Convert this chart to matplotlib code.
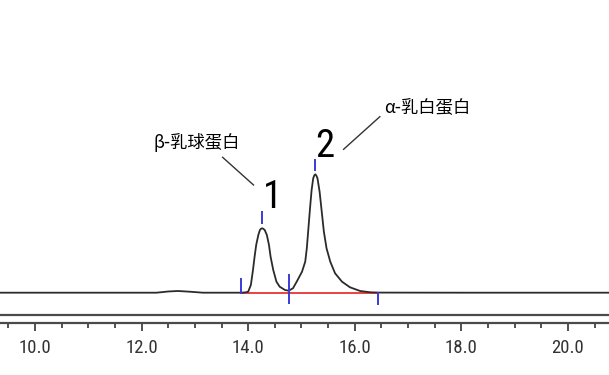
import matplotlib
matplotlib.use('Agg')
import matplotlib.pyplot as plt
from matplotlib.ticker import MultipleLocator, FormatStrFormatter

# datos del cromatograma (tiempo en min, senal)
tiempo = [9.34, 10.5, 11.5, 12.28, 12.5, 12.68, 12.9, 13.15, 13.5, 13.87,
          13.95, 14.00, 14.05, 14.09, 14.12, 14.15, 14.19, 14.22, 14.24, 14.26,
          14.28, 14.31, 14.35, 14.39, 14.42, 14.47, 14.53, 14.59, 14.69, 14.76,
          14.84, 14.91, 15.01, 15.07, 15.10, 15.13, 15.16, 15.19, 15.22, 15.24,
          15.26, 15.28, 15.30, 15.34, 15.38, 15.42, 15.47, 15.54, 15.63, 15.76,
          15.91, 16.10, 16.29, 16.47, 18.0, 20.77]
senal = [0, 0, 0, 0, 1.2, 1.7, 1.0, 0, 0, 0,
         0.3, 1.0, 7.7, 22.7, 36.0, 47.7, 57.7, 62.7, 63.9, 64.4,
         64.0, 62.7, 57.7, 47.7, 36.0, 22.7, 11.0, 6.0, 2.7, 2.0,
         4.4, 11.0, 21.0, 31.0, 44.4, 64.4, 84.4, 102.7, 114.4, 117.3,
         118.4, 117.0, 114.4, 101.0, 81.0, 61.0, 44.4, 31.0, 19.4, 11.0,
         5.4, 1.7, 0.4, 0.1, 0, 0]

# eventos de integracion
inicio, valle, fin = 13.87, 14.76, 16.44
picos = [14.26, 15.26]
nombres_pico = ['1', '2']
proteinas = ['β-乳球蛋白', 'α-乳白蛋白']

fig = plt.figure(figsize=(6.09, 3.75), dpi=100)
ax = fig.add_axes([0, 0.1379, 1, 0.8621])

ax.plot(tiempo, senal, color='#2b2b2b', lw=1.3, zorder=3, solid_joinstyle='round')
ax.plot([inicio, fin], [0, 0], color='#e82020', lw=1.2, zorder=2)

azul = '#3a3ad8'
ax.plot([inicio, inicio], [0, 14], color=azul, lw=1.4, zorder=4)
ax.plot([valle, valle], [-10, 18], color=azul, lw=1.4, zorder=4)
ax.plot([fin, fin], [0, -11], color=azul, lw=1.4, zorder=4)
ax.plot([picos[0], picos[0]], [69.7, 80.7], color=azul, lw=1.4)
ax.plot([picos[1], picos[1]], [122.7, 132.7], color=azul, lw=1.4)

# numeros de pico
fuente_num = ['Roboto Condensed', 'Liberation Sans', 'DejaVu Sans']
ax.text(14.448, 94.7, nombres_pico[0], fontsize=28, family=fuente_num,
        ha='center', va='center')
ax.text(15.44, 145.7, nombres_pico[1], fontsize=28, family=fuente_num,
        ha='center', va='center')

# etiquetas y lineas guia
cjk = ['Noto Sans CJK SC', 'DejaVu Sans']
ax.text(13.04, 150.2, proteinas[0], fontsize=12.5, family=cjk, ha='center', va='center')
ax.text(17.37, 184.7, proteinas[1], fontsize=12.5, family=cjk, ha='center', va='center')
ax.plot([13.52, 14.10], [135.4, 107.7], color='#333333', lw=1.0)
ax.plot([15.79, 16.47], [143.4, 176.0], color='#333333', lw=1.0)

ax.set_xlim(9.343, 20.77)
ax.set_ylim(-30.6, 292.7)

# doble linea del eje
ax.axhline(-22.6, color='#4a4a4a', lw=1.6, clip_on=False)
for s in ['top', 'left', 'right']:
    ax.spines[s].set_visible(False)
ax.spines['bottom'].set_color('#4a4a4a')
ax.spines['bottom'].set_linewidth(1.6)
ax.set_yticks([])

ax.xaxis.set_major_locator(MultipleLocator(2))
ax.xaxis.set_minor_locator(MultipleLocator(0.5))
ax.xaxis.set_major_formatter(FormatStrFormatter('%.1f'))
ax.tick_params(axis='x', which='major', length=6, width=1.2, pad=5, color='#333333',
               labelsize=13.5, labelcolor='#333333')
ax.tick_params(axis='x', which='minor', length=3.5, width=1.2, color='#333333')
for lab in ax.get_xticklabels():
    lab.set_family(['Roboto Condensed', 'Liberation Sans', 'DejaVu Sans'])

fig.savefig('out.png', dpi=100)
